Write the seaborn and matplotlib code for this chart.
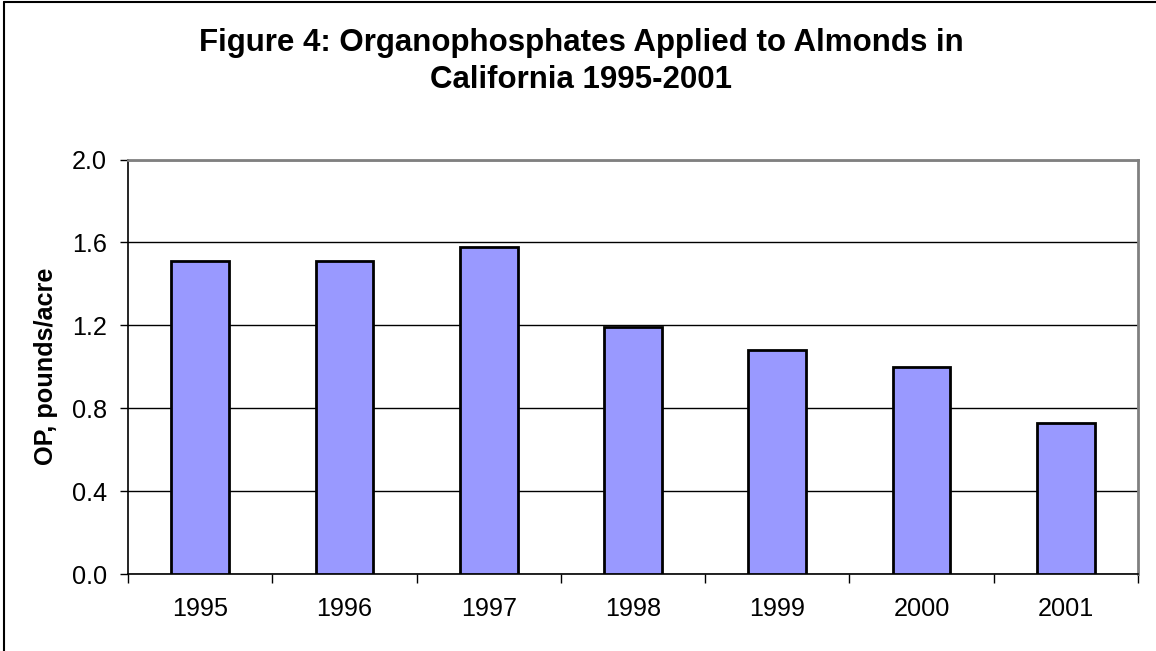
import numpy as np
import seaborn as sns
import matplotlib.pyplot as plt
from matplotlib.lines import Line2D
from matplotlib.ticker import FixedLocator, FormatStrFormatter

# Data
years = ["1995", "1996", "1997", "1998", "1999", "2000", "2001"]
op_lbs_per_acre = [1.51, 1.51, 1.58, 1.19, 1.08, 1.00, 0.73]
y_ticks = [0.0, 0.4, 0.8, 1.2, 1.6, 2.0]
title_lines = ["Figure 4: Organophosphates Applied to Almonds in", "California 1995-2001"]

sns.set_style("white")
plt.rcParams["font.family"] = ["Liberation Sans", "DejaVu Sans"]
plt.rcParams.update({"text.color": "black", "axes.labelcolor": "black",
                     "xtick.color": "black", "ytick.color": "black"})

fig = plt.figure(figsize=(11.56, 6.51), dpi=100)
ax = fig.add_axes([128 / 1156, 1 - 574 / 651, (1138 - 128) / 1156, (574 - 159.5) / 651])

#bars
sns.barplot(x=years, y=op_lbs_per_acre, color="#9999FF", saturation=1,
            width=0.4, edgecolor="black", linewidth=2.0, ax=ax, zorder=3)

ax.set_ylim(0, 2.0)
ax.set_xlim(-0.5, len(years) - 0.5)
ax.set_yticks(y_ticks)
ax.yaxis.set_major_formatter(FormatStrFormatter("%.1f"))
ax.yaxis.grid(True, color="black", linewidth=1.0, zorder=0)
ax.set_axisbelow(True)

#y ticks outside, x ticks on category boundaries
ax.tick_params(axis="y", which="major", direction="out", length=6, width=1,
               labelsize=18.2, pad=9, left=True)
ax.tick_params(axis="x", which="major", length=0, labelsize=18.2, pad=16.5)
ax.xaxis.set_minor_locator(FixedLocator(np.arange(-0.5, len(years), 1.0)))
ax.tick_params(axis="x", which="minor", direction="out", length=6.5, width=1,
               bottom=True)

for side in ["left", "bottom"]:
    ax.spines[side].set_color("black")
    ax.spines[side].set_linewidth(1.2)
for side in ["top", "right"]:
    ax.spines[side].set_color("#808080")
    ax.spines[side].set_linewidth(2)

ax.set_xlabel("")
ax.set_ylabel("OP, pounds/acre", fontsize=18.2, fontweight="bold", labelpad=10)

#title, two centred lines
fig.text(581 / 1156, 1 - 50.5 / 651, title_lines[0], ha="center", va="baseline",
         fontsize=22.5, fontweight="bold")
fig.text(581 / 1156, 1 - 88 / 651, title_lines[1], ha="center", va="baseline",
         fontsize=22.5, fontweight="bold")

#chart border
fig.add_artist(Line2D([4 / 1156, 4 / 1156], [0, 1 - 2 / 651], transform=fig.transFigure,
                      color="black", linewidth=1.5))
fig.add_artist(Line2D([4 / 1156, 1], [1 - 2 / 651, 1 - 2 / 651], transform=fig.transFigure,
                      color="black", linewidth=1.5))

fig.savefig("out.png", dpi=100)
